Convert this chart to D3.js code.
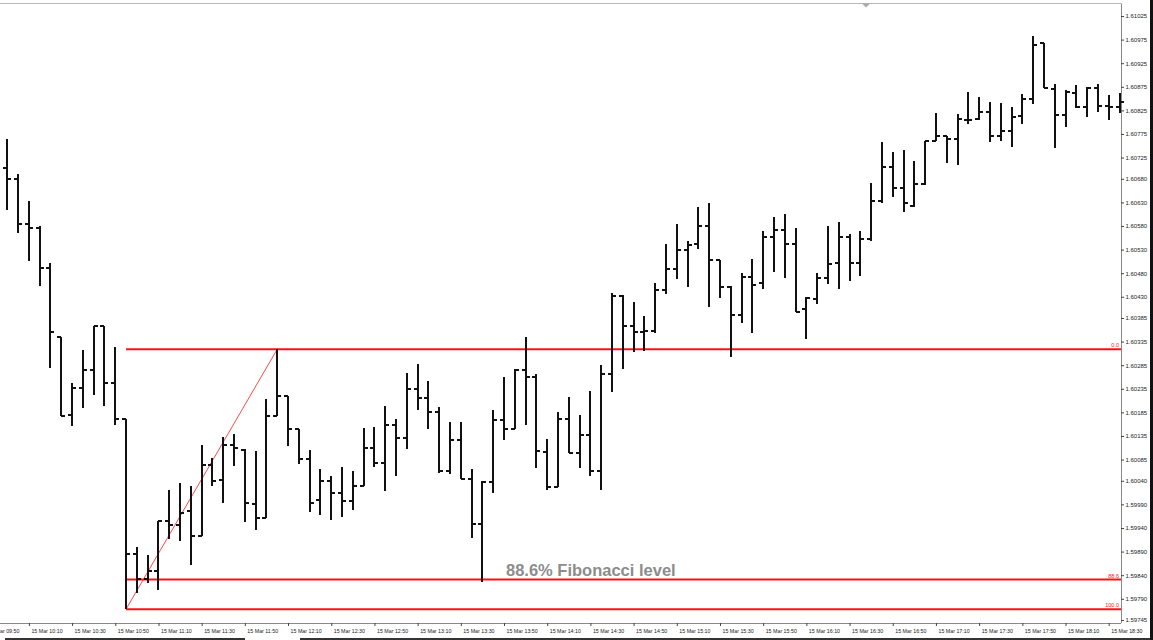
<!DOCTYPE html>
<html>
<head>
<meta charset="utf-8">
<script src="https://cdn.jsdelivr.net/npm/d3@7"></script>
<style>
  body { margin: 0; background: #fff; }
  svg { display: block; }
  .price-axis text { font-family: "Liberation Sans", Arial, sans-serif; font-size: 6px; fill: #222; }
  .time-axis text { font-family: "Liberation Sans", Arial, sans-serif; font-size: 5.3px; fill: #222; }
</style>
</head>
<body>
<svg id="chart" width="1153" height="640"></svg>
<script>
// 5 minute bars, first bar 15 Mar 10:00
var startMinute = 10 * 60;
var barMinutes = 5;

var opens = [
  1.60702, 1.60679, 1.60584, 1.60575, 1.60490, 1.60345, 1.60179, 1.60236, 1.60275, 1.60367,
  1.60248, 1.60170, 1.59885, 1.59831, 1.59849, 1.59955, 1.59946, 1.59976, 1.59924, 1.60074,
  1.60042, 1.60116, 1.60105, 1.59991, 1.59962, 1.60177, 1.60220, 1.60150, 1.60086, 1.59999,
  1.60040, 1.60014, 1.59998, 1.60028, 1.60109, 1.60078, 1.60159, 1.60131, 1.60235, 1.60215,
  1.60186, 1.60061, 1.60126, 1.60044, 1.59948, 1.60038, 1.60169, 1.60149, 1.60275, 1.60261,
  1.60100, 1.60027, 1.60172, 1.60098, 1.60137, 1.60061, 1.60266, 1.60432, 1.60367, 1.60355,
  1.60357, 1.60445, 1.60488, 1.60529, 1.60541, 1.60579, 1.60508, 1.60451, 1.60391, 1.60471,
  1.60460, 1.60557, 1.60572, 1.60541, 1.60404, 1.60425, 1.60470, 1.60502, 1.60556, 1.60501,
  1.60552, 1.60633, 1.60704, 1.60660, 1.60623, 1.60668, 1.60761, 1.60771, 1.60764, 1.60805,
  1.60806, 1.60822, 1.60771, 1.60781, 1.60813, 1.60849, 1.60968, 1.60870, 1.60815, 1.60862,
  1.60833, 1.60872, 1.60834, 1.60832
];
var highs = [
  1.60764, 1.60690, 1.60633, 1.60579, 1.60501, 1.60345, 1.60247, 1.60317, 1.60368, 1.60368,
  1.60324, 1.60171, 1.59900, 1.59883, 1.59955, 1.60021, 1.60036, 1.60028, 1.60115, 1.60088,
  1.60133, 1.60139, 1.60107, 1.60104, 1.60213, 1.60319, 1.60220, 1.60150, 1.60105, 1.60066,
  1.60051, 1.60069, 1.60061, 1.60151, 1.60153, 1.60199, 1.60172, 1.60268, 1.60287, 1.60252,
  1.60196, 1.60165, 1.60165, 1.60065, 1.60040, 1.60189, 1.60261, 1.60276, 1.60344, 1.60266,
  1.60128, 1.60186, 1.60217, 1.60179, 1.60230, 1.60285, 1.60439, 1.60433, 1.60418, 1.60390,
  1.60459, 1.60541, 1.60584, 1.60549, 1.60620, 1.60629, 1.60508, 1.60453, 1.60481, 1.60510,
  1.60570, 1.60600, 1.60605, 1.60576, 1.60429, 1.60480, 1.60581, 1.60589, 1.60563, 1.60569,
  1.60671, 1.60758, 1.60737, 1.60740, 1.60718, 1.60761, 1.60820, 1.60771, 1.60817, 1.60865,
  1.60854, 1.60842, 1.60841, 1.60832, 1.60860, 1.60983, 1.60968, 1.60881, 1.60868, 1.60879,
  1.60874, 1.60880, 1.60858, 1.60862
];
var lows = [
  1.60614, 1.60566, 1.60506, 1.60453, 1.60280, 1.60177, 1.60156, 1.60194, 1.60222, 1.60199,
  1.60158, 1.59768, 1.59802, 1.59823, 1.59809, 1.59916, 1.59913, 1.59862, 1.59922, 1.60028,
  1.59994, 1.60072, 1.59952, 1.59936, 1.59961, 1.60177, 1.60114, 1.60075, 1.59973, 1.59968,
  1.59957, 1.59963, 1.59978, 1.60028, 1.60070, 1.60019, 1.60051, 1.60107, 1.60190, 1.60149,
  1.60056, 1.60054, 1.60044, 1.59918, 1.59826, 1.60014, 1.60126, 1.60149, 1.60158, 1.60067,
  1.60021, 1.60027, 1.60098, 1.60067, 1.60051, 1.60021, 1.60229, 1.60277, 1.60312, 1.60315,
  1.60353, 1.60435, 1.60467, 1.60451, 1.60531, 1.60408, 1.60427, 1.60302, 1.60375, 1.60354,
  1.60446, 1.60482, 1.60470, 1.60398, 1.60341, 1.60414, 1.60457, 1.60446, 1.60463, 1.60474,
  1.60548, 1.60629, 1.60642, 1.60610, 1.60621, 1.60667, 1.60761, 1.60714, 1.60709, 1.60796,
  1.60805, 1.60757, 1.60761, 1.60748, 1.60796, 1.60839, 1.60872, 1.60745, 1.60790, 1.60829,
  1.60812, 1.60822, 1.60805, 1.60819
];
var closes = [
  1.60679, 1.60584, 1.60575, 1.60490, 1.60355, 1.60177, 1.60236, 1.60275, 1.60367, 1.60248,
  1.60172, 1.59885, 1.59831, 1.59849, 1.59955, 1.59946, 1.59972, 1.59924, 1.60074, 1.60040,
  1.60116, 1.60110, 1.59992, 1.59962, 1.60177, 1.60220, 1.60150, 1.60086, 1.59994, 1.60040,
  1.60014, 1.59998, 1.60028, 1.60109, 1.60078, 1.60159, 1.60131, 1.60235, 1.60215, 1.60186,
  1.60061, 1.60126, 1.60044, 1.59948, 1.60038, 1.60169, 1.60149, 1.60275, 1.60261, 1.60103,
  1.60027, 1.60172, 1.60098, 1.60137, 1.60061, 1.60266, 1.60432, 1.60367, 1.60355, 1.60357,
  1.60445, 1.60488, 1.60529, 1.60540, 1.60581, 1.60508, 1.60451, 1.60391, 1.60471, 1.60455,
  1.60557, 1.60572, 1.60541, 1.60398, 1.60428, 1.60470, 1.60499, 1.60556, 1.60501, 1.60552,
  1.60633, 1.60704, 1.60660, 1.60628, 1.60668, 1.60761, 1.60771, 1.60764, 1.60806, 1.60805,
  1.60822, 1.60771, 1.60782, 1.60812, 1.60849, 1.60964, 1.60872, 1.60815, 1.60863, 1.60833,
  1.60872, 1.60834, 1.60832, 1.60843
];

var priceTicks = [
  "1.61025", "1.60975", "1.60925", "1.60875", "1.60825", "1.60775", "1.60725", "1.60680", "1.60630",
  "1.60580", "1.60530", "1.60480", "1.60430", "1.60385", "1.60335", "1.60285", "1.60235", "1.60185",
  "1.60135", "1.60085", "1.60040", "1.59990", "1.59940", "1.59890", "1.59840", "1.59790", "1.59745"
];
var timeTicks = [
  "09:50", "10:10", "10:30", "10:50", "11:10", "11:30", "11:50", "12:10", "12:30", "12:50",
  "13:10", "13:30", "13:50", "14:10", "14:30", "14:50", "15:10", "15:30", "15:50", "16:10",
  "16:30", "16:50", "17:10", "17:30", "17:50", "18:10", "18:30"
];
var datePrefix = "15 Mar ";

// fibonacci retracement, swing low bar -> swing high bar
var fibFromBar = 11;
var fibToBar = 25;
var fibLevels = [0, 0.886, 1];
var fibLabels = ["0.0", "88.6", "100.0"];
var fibNote = "88.6% Fibonacci level";

var width = 1153, height = 640;
var plotRight = 1121, plotTop = 3.5, plotBottom = 623;

var svg = d3.select("#chart");

var bars = d3.range(opens.length).map(function(i) {
  return { i: i, o: opens[i], h: highs[i], l: lows[i], c: closes[i] };
});

var x = d3.scaleLinear().domain([0, bars.length - 1]).range([7.3, 1119.5]);
var y = d3.scaleLinear().domain([+priceTicks[priceTicks.length - 1], +priceTicks[0]]).range([620, 16]);

function timeToIndex(t) {
  var p = t.split(":");
  return (+p[0] * 60 + +p[1] - startMinute) / barMinutes;
}

// frame
svg.append("line")
  .attr("x1", 0).attr("x2", plotRight).attr("y1", plotTop).attr("y2", plotTop)
  .attr("stroke", "#b8b8b8").attr("stroke-width", 1);
svg.append("line")
  .attr("x1", plotRight + 0.5).attr("x2", plotRight + 0.5).attr("y1", plotTop).attr("y2", plotBottom)
  .attr("stroke", "#888").attr("stroke-width", 1);
svg.append("line")
  .attr("x1", 0).attr("x2", plotRight).attr("y1", plotBottom + 0.5).attr("y2", plotBottom + 0.5)
  .attr("stroke", "#888").attr("stroke-width", 1);
// chart shift marker
svg.append("path")
  .attr("d", "M862,3.5 L870,3.5 L866,7.5 Z")
  .attr("fill", "#aaa");
// window edges
svg.append("rect").attr("x", 1150).attr("y", 0).attr("width", 3).attr("height", height).attr("fill", "#111");
svg.append("rect").attr("x", 5).attr("y", 638).attr("width", 240).attr("height", 2).attr("fill", "#333");
svg.append("rect").attr("x", 300).attr("y", 638).attr("width", 850).attr("height", 2).attr("fill", "#333");

// price axis
var yAxis = d3.axisRight(y)
  .tickValues(priceTicks.map(Number))
  .tickFormat(function(d, i) { return priceTicks[i]; })
  .tickSize(3)
  .tickPadding(1.5);
var gy = svg.append("g").attr("class", "price-axis")
  .attr("transform", "translate(" + plotRight + ",0)")
  .call(yAxis);
gy.select(".domain").remove();
gy.selectAll(".tick line").attr("stroke", "#444");

// time axis
var xAxis = d3.axisBottom(x)
  .tickValues(timeTicks.map(timeToIndex))
  .tickFormat(function(d, i) { return datePrefix + timeTicks[i]; })
  .tickSize(3);
var gx = svg.append("g").attr("class", "time-axis")
  .attr("transform", "translate(0," + plotBottom + ")")
  .call(xAxis);
gx.select(".domain").remove();
gx.selectAll(".tick line").attr("stroke", "#444");
gx.selectAll(".tick text")
  .attr("text-anchor", "start")
  .attr("x", 2)
  .attr("y", 6)
  .attr("dy", "0.71em");

// fibonacci
var fibLow = lows[fibFromBar], fibHigh = highs[fibToBar];
var fibPrice = function(lv) { return fibHigh - lv * (fibHigh - fibLow); };

var fib = svg.append("g").attr("class", "fib");
fib.append("line")
  .attr("x1", x(fibFromBar)).attr("y1", y(fibLow))
  .attr("x2", x(fibToBar)).attr("y2", y(fibHigh))
  .attr("stroke", "#ff4a4a").attr("stroke-width", 1);
fib.selectAll("line.level")
  .data(fibLevels)
  .enter().append("line")
  .attr("class", "level")
  .attr("x1", x(fibFromBar)).attr("x2", plotRight)
  .attr("y1", function(d) { return y(fibPrice(d)); })
  .attr("y2", function(d) { return y(fibPrice(d)); })
  .attr("stroke", "#ff1010").attr("stroke-width", 2);
fib.selectAll("text")
  .data(fibLevels)
  .enter().append("text")
  .attr("x", plotRight - 2)
  .attr("y", function(d) { return y(fibPrice(d)) - 2; })
  .attr("text-anchor", "end")
  .attr("font-family", "Liberation Sans, Arial, sans-serif")
  .attr("font-size", 5.5)
  .attr("fill", "#ff2020")
  .text(function(d, i) { return fibLabels[i]; });

// OHLC bars
var g = svg.append("g").attr("class", "bars")
  .attr("stroke", "#111").attr("stroke-width", 2).attr("shape-rendering", "crispEdges");
var node = g.selectAll("g.bar").data(bars).enter().append("g").attr("class", "bar");
node.append("line")
  .attr("x1", function(d) { return x(d.i); }).attr("x2", function(d) { return x(d.i); })
  .attr("y1", function(d) { return y(d.h); }).attr("y2", function(d) { return y(d.l); });
node.append("line")
  .attr("x1", function(d) { return x(d.i) - 4; }).attr("x2", function(d) { return x(d.i); })
  .attr("y1", function(d) { return y(d.o); }).attr("y2", function(d) { return y(d.o); });
node.append("line")
  .attr("x1", function(d) { return x(d.i); }).attr("x2", function(d) { return x(d.i) + 4; })
  .attr("y1", function(d) { return y(d.c); }).attr("y2", function(d) { return y(d.c); });

// annotation
var lvl = fibLevels[1];
svg.append("text")
  .attr("x", 506)
  .attr("y", y(fibPrice(lvl)) - 4)
  .attr("font-family", "Liberation Sans, Arial, sans-serif")
  .attr("font-weight", "bold")
  .attr("font-size", 16.5)
  .attr("fill", "#8c8c8c")
  .text(fibNote);
</script>
</body>
</html>
